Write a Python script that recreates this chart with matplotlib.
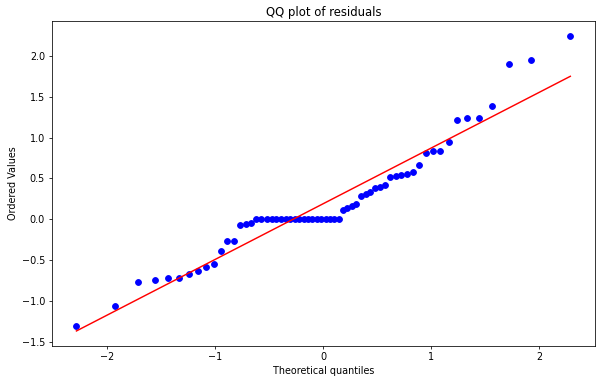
import numpy as np
import matplotlib
matplotlib.use("Agg")
import matplotlib.pyplot as plt

# Theoretical quantiles
theoretical = [
    -2.287, -1.927, -1.716, -1.563, -1.439, -1.334, -1.242, -1.160, -1.084, -1.014,
    -0.949, -0.888, -0.830, -0.774, -0.721, -0.670, -0.620, -0.573, -0.525, -0.480,
    -0.435, -0.391, -0.348, -0.306, -0.264, -0.223, -0.182, -0.141, -0.101, -0.060,
    -0.020, 0.020, 0.060, 0.101, 0.141, 0.182, 0.223, 0.264, 0.306, 0.348,
    0.391, 0.435, 0.480, 0.525, 0.573, 0.620, 0.670, 0.721, 0.774, 0.830,
    0.888, 0.949, 1.014, 1.084, 1.160, 1.242, 1.334, 1.439, 1.563, 1.716,
    1.927, 2.287,
]

# Ordered residuals
ordered = [
    -1.308, -1.056, -0.765, -0.748, -0.714, -0.714, -0.665, -0.632, -0.579, -0.543,
    -0.388, -0.269, -0.269, -0.070, -0.055, -0.042, 0.0, 0.0, 0.0, 0.0,
    0.0, 0.0, 0.0, 0.0, 0.0, 0.0, 0.0, 0.0, 0.0, 0.0,
    0.0, 0.0, 0.0, 0.0, 0.0, 0.114, 0.142, 0.163, 0.191, 0.290,
    0.310, 0.340, 0.380, 0.400, 0.420, 0.521, 0.530, 0.537, 0.550, 0.582,
    0.664, 0.807, 0.835, 0.839, 0.949, 1.214, 1.242, 1.242, 1.381, 1.899,
    1.947, 2.241,
]

title = "QQ plot of residuals"
xlabel = "Theoretical quantiles"
ylabel = "Ordered Values"

DPI = 69.5
fig = plt.figure(figsize=(602 / DPI, 383 / DPI), dpi=DPI)
ax = fig.add_axes([0.0859, 0.0974, 0.9884 - 0.0859, 0.9439 - 0.0974])

x = np.asarray(theoretical)
y = np.asarray(ordered)
slope, intercept = np.polyfit(x, y, 1)

ax.plot(x, y, "bo")
ax.plot(x, slope * x + intercept, "r-")

ax.set_title(title)
ax.set_xlabel(xlabel)
ax.set_ylabel(ylabel)

fig.savefig("out.png", dpi=DPI)
